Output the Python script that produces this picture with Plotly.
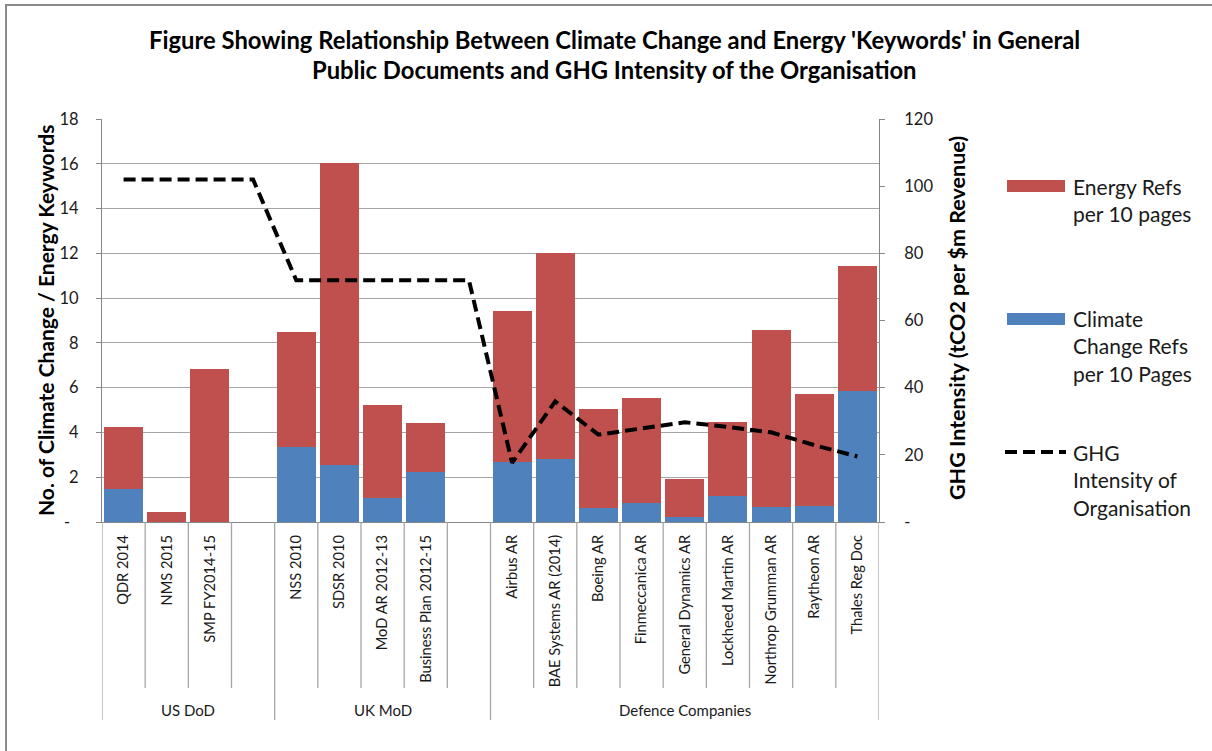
import plotly.graph_objects as go

# ---------------- data ----------------
groups = ["US DoD", "UK MoD", "Defence Companies"]
group_sizes = [4, 5, 9]
categories = ["QDR 2014", "NMS 2015", "SMP FY2014-15", "",
              "NSS 2010", "SDSR 2010", "MoD AR 2012-13", "Business Plan 2012-15", "",
              "Airbus AR", "BAE Systems AR (2014)", "Boeing AR", "Finmeccanica AR",
              "General Dynamics AR", "Lockheed Martin AR", "Northrop Grumman AR",
              "Raytheon AR", "Thales Reg Doc"]
climate_refs = [1.49, 0.0, 0.0, None,
                3.33, 2.53, 1.09, 2.23, None,
                2.68, 2.81, 0.63, 0.86, 0.22, 1.18, 0.67, 0.73, 5.83]
energy_refs = [2.74, 0.43, 6.85, None,
               5.15, 13.50, 4.13, 2.20, None,
               6.75, 9.21, 4.40, 4.68, 1.71, 3.30, 7.92, 5.00, 5.61]
ghg_intensity = [102, 102, 102, 102,
                 72, 72, 72, 72, 72,
                 17.6, 35.9, 26.0, 28.0, 29.7, 28.3, 26.7, 22.9, 19.5]
left_ticks = [0, 2, 4, 6, 8, 10, 12, 14, 16, 18]
right_ticks = [0, 20, 40, 60, 80, 100, 120]

title_lines = ["Figure Showing Relationship Between Climate Change and Energy 'Keywords' in General",
               "Public Documents and GHG Intensity of the Organisation"]
legend_names = ["Energy Refs<br>per 10 pages",
                "Climate<br>Change Refs<br>per 10 Pages",
                "GHG<br>Intensity of<br>Organisation"]

# ---------------- styling ----------------
FONT = "Lato, Carlito, Calibri, sans-serif"
RED = "#C0504D"
BLUE = "#4F81BD"
GRID = "#A6A6A6"
AXIS = "#868686"
TXT = "#1a1a1a"

W, H = 1212, 751
L, R, T, B = 102, 333, 119, 229
PW, PH = W - L - R, H - T - B


def px(xp):
    return (xp - L) / PW


def py(yp):
    return (H - B - yp) / PH


xs = list(range(len(categories)))

fig = go.Figure()
fig.add_trace(go.Bar(x=xs, y=climate_refs, name="Climate Change Refs per 10 Pages",
                     marker=dict(color=BLUE, line=dict(width=0)), width=0.9,
                     showlegend=False))
fig.add_trace(go.Bar(x=xs, y=energy_refs, name="Energy Refs per 10 pages",
                     marker=dict(color=RED, line=dict(width=0)), width=0.9,
                     showlegend=False))
fig.add_trace(go.Scatter(x=xs, y=ghg_intensity, name="GHG Intensity of Organisation",
                         mode="lines", yaxis="y2",
                         line=dict(color="black", width=4, dash="12px,6px"),
                         showlegend=False))

shapes = []
annotations = []

# outer border (left / top visible)
shapes.append(dict(type="rect", xref="paper", yref="paper",
                   x0=px(6), x1=px(1230), y0=py(770), y1=py(5),
                   line=dict(color="#8A8A8A", width=2), layer="below"))

# category separators and group separators
n = len(categories)
bounds = [-0.5]
acc = -0.5
for s in group_sizes:
    acc += s
    bounds.append(acc)
for i in range(n + 1):
    xb = i - 0.5
    is_group = any(abs(xb - b) < 1e-9 for b in bounds)
    shapes.append(dict(type="line", xref="x", yref="paper", x0=xb, x1=xb,
                       y0=0, y1=py(720 if is_group else 688),
                       line=dict(color="#A6A6A6", width=1.3)))

# group labels
start = 0
for g, s in zip(groups, group_sizes):
    annotations.append(dict(x=start + (s - 1) / 2, y=py(710), xref="x", yref="paper",
                            xanchor="center", yanchor="middle",
                            text=g, showarrow=False,
                            font=dict(family=FONT, size=15, color=TXT)))
    start += s

# title
for line, yc in zip(title_lines, [40, 70]):
    annotations.append(dict(x=px(614), y=py(yc), xref="paper", yref="paper",
                            xanchor="center", yanchor="middle",
                            text="<b>" + line + "</b>", showarrow=False,
                            font=dict(family=FONT, size=23.8, color="black")))

# axis titles
annotations.append(dict(x=px(45), y=py(321), xref="paper", yref="paper",
                        xanchor="center", yanchor="middle",
                        text="<b>No. of Climate Change / Energy Keywords</b>",
                        textangle=-90, showarrow=False,
                        font=dict(family=FONT, size=21, color="black")))
annotations.append(dict(x=px(957), y=py(318), xref="paper", yref="paper",
                        xanchor="center", yanchor="middle",
                        text="<b>GHG Intensity (tCO2 per $m Revenue)</b>",
                        textangle=-90, showarrow=False,
                        font=dict(family=FONT, size=21.5, color="black")))

# legend (drawn)
shapes.append(dict(type="rect", xref="paper", yref="paper",
                   x0=px(1007), x1=px(1065), y0=py(192), y1=py(180),
                   fillcolor=RED, line=dict(width=0)))
shapes.append(dict(type="rect", xref="paper", yref="paper",
                   x0=px(1007), x1=px(1065), y0=py(325), y1=py(313),
                   fillcolor=BLUE, line=dict(width=0)))
shapes.append(dict(type="line", xref="paper", yref="paper",
                   x0=px(1005), x1=px(1066), y0=py(452), y1=py(452),
                   line=dict(color="black", width=4, dash="12px,6px")))
for name, ytop in zip(legend_names, [172, 304, 438]):
    annotations.append(dict(x=px(1071), y=py(ytop), xref="paper", yref="paper",
                            xanchor="left", yanchor="top", align="left",
                            text=name, showarrow=False,
                            font=dict(family=FONT, size=21, color=TXT)))

fig.update_layout(
    width=W, height=H,
    margin=dict(l=L, r=R, t=T, b=B),
    paper_bgcolor="white", plot_bgcolor="white",
    barmode="stack", bargap=0.1,
    font=dict(family=FONT, color=TXT),
    xaxis=dict(range=[-0.5, n - 0.5], tickvals=xs, ticktext=categories,
               tickangle=-90, ticks="", showgrid=False, zeroline=False,
               showline=True, linecolor=AXIS, linewidth=1,
               tickfont=dict(family=FONT, size=14.7, color=TXT),
               ticklabelstandoff=6, automargin=False),
    yaxis=dict(range=[0, 18], tickvals=left_ticks,
               ticktext=["-\u00a0\u00a0"] + [str(v) for v in left_ticks[1:]],
               showgrid=True, gridcolor=GRID, gridwidth=1, zeroline=False,
               showline=True, linecolor=AXIS, linewidth=1,
               ticks="outside", ticklen=5, tickcolor=AXIS,
               tickfont=dict(family=FONT, size=16.5, color=TXT),
               ticklabelstandoff=14, automargin=False),
    yaxis2=dict(range=[0, 120], overlaying="y", side="right",
                tickvals=right_ticks,
                ticktext=["-"] + [str(v) for v in right_ticks[1:]],
                showgrid=False, zeroline=False,
                showline=True, linecolor=AXIS, linewidth=1,
                ticks="outside", ticklen=5, tickcolor=AXIS,
                tickfont=dict(family=FONT, size=16.5, color=TXT),
                ticklabelstandoff=16, automargin=False),
    shapes=shapes,
    annotations=annotations,
)

fig.write_html("out.html", config={"displayModeBar": False},
               post_script="document.body.style.margin='0px';document.body.style.overflow='hidden';")
